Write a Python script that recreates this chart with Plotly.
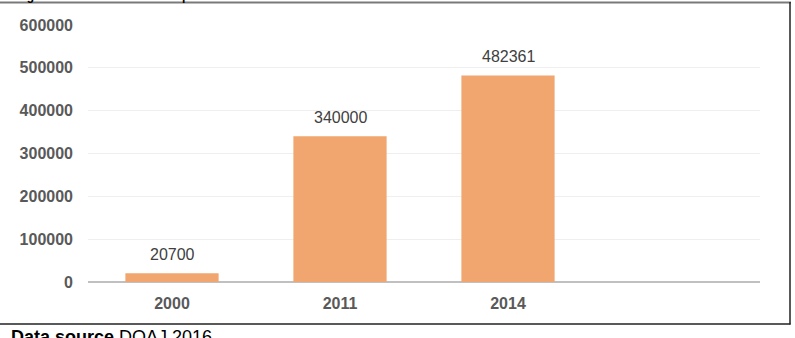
import plotly.graph_objects as go

categories = ["2000", "2011", "2014"]
values = [20700, 340000, 482361]
y_ticks = [0, 100000, 200000, 300000, 400000, 500000, 600000]

W, H = 795, 338
L, R, T, B = 88, 35, 25, 56
pw, ph = W - L - R, H - T - B

def px_x(p):
    return (p - L) / pw

def px_y(q):
    return (H - B - q) / ph

FONT = "Liberation Sans, Arial, sans-serif"
BAR = "#F1A66F"

fig = go.Figure()
fig.add_trace(go.Bar(x=categories, y=values, marker=dict(color=BAR, line=dict(width=0)),
                     width=0.555, hoverinfo="skip"))

annotations = []
for i, (c, v) in enumerate(zip(categories, values)):
    annotations.append(dict(x=i, y=v, xref="x", yref="y", text=str(v), showarrow=False,
                            yanchor="bottom", yshift=8,
                            font=dict(family=FONT, size=16, color="#404040")))

annotations.append(dict(xref="paper", yref="paper", x=px_x(14), y=px_y(3), xanchor="left",
                        yanchor="bottom", showarrow=False, yshift=-2,
                        text="<b>Figure 1: Number of indexed publications</b>",
                        font=dict(family=FONT, size=12, color="#000000")))
annotations.append(dict(xref="paper", yref="paper", x=px_x(9), y=px_y(325), xanchor="left",
                        yanchor="top", showarrow=False,
                        text="<b>Data source</b> DOAJ 2016",
                        font=dict(family=FONT, size=18, color="#000000")))

shapes = [
    dict(type="line", xref="paper", yref="paper", x0=px_x(-10), x1=px_x(791), y0=px_y(2.5), y1=px_y(2.5),
         line=dict(color="#7a7a7a", width=2)),
    dict(type="line", xref="paper", yref="paper", x0=px_x(790), x1=px_x(790), y0=px_y(2), y1=px_y(324.5),
         line=dict(color="#222222", width=1.5)),
    dict(type="line", xref="paper", yref="paper", x0=px_x(-10), x1=px_x(790.5), y0=px_y(324), y1=px_y(324),
         line=dict(color="#222222", width=1.5)),
]

fig.update_layout(
    width=W, height=H,
    margin=dict(l=L, r=R, t=T, b=B, pad=0),
    paper_bgcolor="white", plot_bgcolor="white",
    showlegend=False, bargap=0.445,
    annotations=annotations, shapes=shapes,
    xaxis=dict(type="category", categoryarray=categories, categoryorder="array",
               range=[-0.5, 3.5], showgrid=False, zeroline=False, showline=False,
               ticks="", ticklabelstandoff=10,
               tickfont=dict(family=FONT, size=16, color="#595959", weight="bold"),
               fixedrange=True),
    yaxis=dict(range=[0, 600000], tickvals=y_ticks, ticktext=[str(t) for t in y_ticks],
               showgrid=True, gridcolor="#efefef", gridwidth=1,
               zeroline=True, zerolinecolor="#c0c0c0", zerolinewidth=2,
               showline=False, ticks="", ticklabelstandoff=14,
               tickfont=dict(family=FONT, size=16, color="#595959", weight="bold"),
               fixedrange=True),
)

fig.write_html("out.html")
